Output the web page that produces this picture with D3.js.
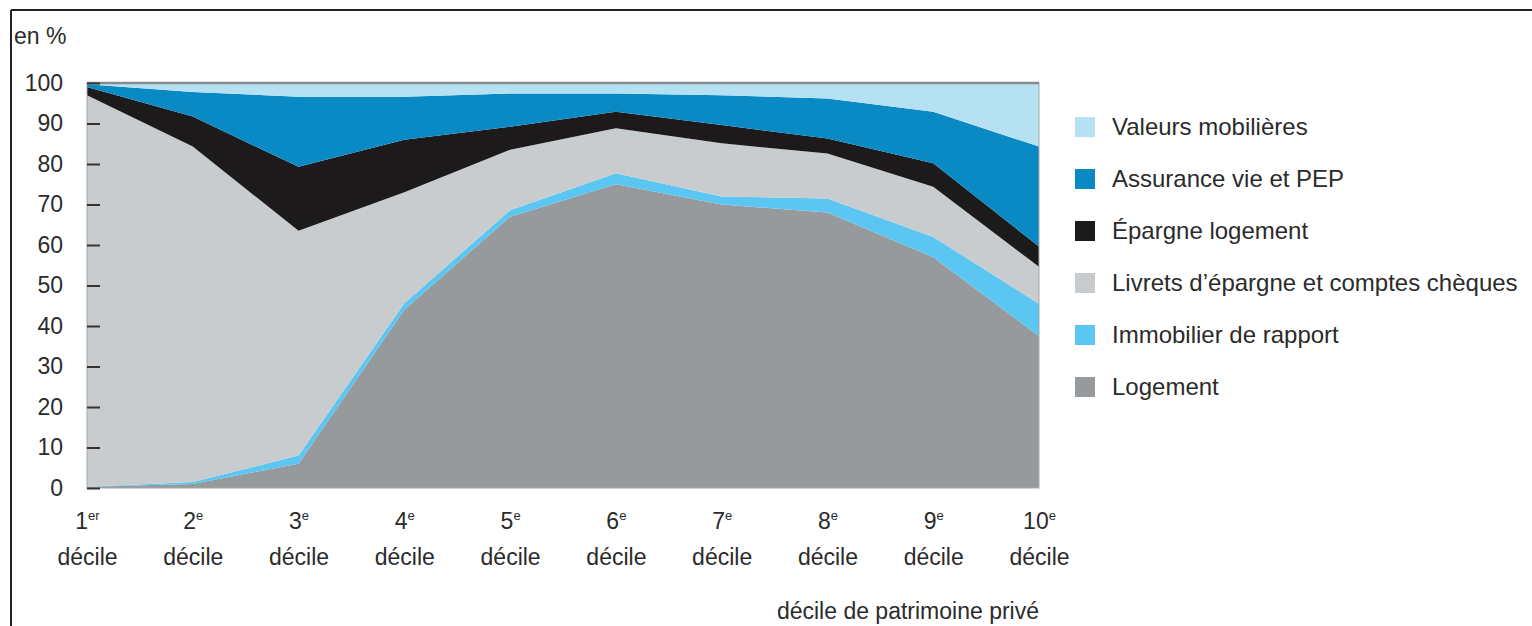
<!DOCTYPE html>
<html>
<head>
<meta charset="utf-8">
<script src="https://cdn.jsdelivr.net/npm/d3@7"></script>
<style>
  body { margin: 0; background: #fff; }
  svg { display: block; }
  text { font-family: "Liberation Sans", Arial, sans-serif; fill: #2b2b2b; }
  .legend text { font-size: 24px; }
</style>
</head>
<body>
<script>
//// DATA
// Deciles (x axis) and their ordinal suffixes
var deciles = [1, 2, 3, 4, 5, 6, 7, 8, 9, 10];
var suffixes = ["er", "e", "e", "e", "e", "e", "e", "e", "e", "e"];

// Share of each asset in gross wealth, in % (bottom to top)
var logement     = [0.3, 1.0, 6.0, 44.0, 67.0, 75.0, 70.0, 68.0, 57.0, 37.5];
var immobilier   = [0.0, 0.5, 2.0, 1.6, 1.6, 2.7, 2.0, 3.5, 5.0, 8.0];
var livrets      = [96.7, 82.8, 55.5, 27.4, 14.9, 11.1, 13.1, 11.1, 12.4, 9.1];
var epargneLog   = [2.0, 7.4, 15.8, 13.0, 5.7, 4.1, 4.5, 3.7, 5.8, 5.0];
var assurance    = [0.7, 6.1, 17.3, 10.6, 8.2, 4.5, 7.4, 9.9, 12.7, 24.7];
var valeurs      = [0.3, 2.2, 3.4, 3.4, 2.6, 2.6, 3.0, 3.8, 7.1, 15.7];

var yTicks = [0, 10, 20, 30, 40, 50, 60, 70, 80, 90, 100];

// Series, bottom to top of the stack
var series = [
	{key: "logement",   label: "Logement",                              values: logement,   color: "#969a9d"},
	{key: "immobilier", label: "Immobilier de rapport",                 values: immobilier, color: "#5ac6f1"},
	{key: "livrets",    label: "Livrets d\u2019épargne et comptes chèques", values: livrets, color: "#c9ccce"},
	{key: "epargne",    label: "Épargne logement",                      values: epargneLog, color: "#1c1a1b"},
	{key: "assurance",  label: "Assurance vie et PEP",                  values: assurance,  color: "#0a8ac5"},
	{key: "valeurs",    label: "Valeurs mobilières",                    values: valeurs,    color: "#b6e1f3"}
];


//// LAYOUT
var W = 1532, H = 626;
var plot = {left: 87, right: 1039, top: 83, bottom: 488};

var svg = d3.select("body").append("svg")
	.attr("width", W)
	.attr("height", H);

// Outer frame (top and left borders)
svg.append("line")
	.attr("x1", 11).attr("x2", W).attr("y1", 10).attr("y2", 10)
	.attr("stroke", "#222").attr("stroke-width", 2);
svg.append("line")
	.attr("x1", 11).attr("x2", 11).attr("y1", 10).attr("y2", H)
	.attr("stroke", "#222").attr("stroke-width", 2);

// Scales
var x = d3.scaleLinear().domain([1, 10]).range([plot.left, plot.right]);
var y = d3.scaleLinear().domain([0, 100]).range([plot.bottom, plot.top]);

// Stack
var table = deciles.map(function(d, i) {
	var row = {decile: d};
	series.forEach(function(s) { row[s.key] = s.values[i]; });
	return row;
});
var stacked = d3.stack().keys(series.map(function(s) { return s.key; }))(table);

var area = d3.area()
	.x(function(d) { return x(d.data.decile); })
	.y0(function(d) { return y(d[0]); })
	.y1(function(d) { return y(d[1]); });

svg.append("g").selectAll("path")
	.data(stacked)
  .enter().append("path")
	.attr("fill", function(d, i) { return series[i].color; })
	.attr("d", area);

// Plot frame
svg.append("rect")
	.attr("x", plot.left).attr("y", plot.top)
	.attr("width", plot.right - plot.left).attr("height", plot.bottom - plot.top)
	.attr("fill", "none").attr("stroke", "#a4a8aa").attr("stroke-width", 1);
svg.append("line")
	.attr("x1", plot.left).attr("x2", plot.right)
	.attr("y1", y(100)).attr("y2", y(100))
	.attr("stroke", "#878c8f").attr("stroke-width", 2.5);


//// AXES
var yAxis = d3.axisLeft(y)
	.tickValues(yTicks)
	.tickSizeInner(-13)
	.tickSizeOuter(0)
	.tickPadding(24);

var left = svg.append("g")
	.attr("class", "y axis")
	.attr("transform", "translate(" + plot.left + ",0)")
	.call(yAxis);
left.select(".domain").remove();
left.selectAll(".tick line").attr("stroke", "#333").attr("stroke-width", 2);
left.selectAll(".tick text").attr("fill", "#2b2b2b").style("font-size", "23px");

var xAxis = d3.axisBottom(x)
	.tickValues(deciles)
	.tickSize(0)
	.tickFormat("");

var bottom = svg.append("g")
	.attr("class", "x axis")
	.attr("transform", "translate(0," + plot.bottom + ")")
	.call(xAxis);
bottom.select(".domain").remove();

bottom.selectAll(".tick").each(function(d, i) {
	var g = d3.select(this);
	var t = g.append("text")
		.attr("text-anchor", "middle")
		.attr("y", 41)
		.attr("fill", "#2b2b2b")
		.style("font-size", "23px");
	t.append("tspan").text(d);
	t.append("tspan")
		.attr("dy", -9)
		.style("font-size", "13px")
		.text(suffixes[i]);
	g.append("text")
		.attr("text-anchor", "middle")
		.attr("y", 77)
		.attr("fill", "#2b2b2b")
		.style("font-size", "23px")
		.text("décile");
});

// Axis titles
svg.append("text")
	.attr("x", 14).attr("y", 44)
	.style("font-size", "23px")
	.text("en %");

svg.append("text")
	.attr("x", plot.right).attr("y", 619)
	.attr("text-anchor", "end")
	.style("font-size", "23px")
	.text("décile de patrimoine privé");


//// LEGEND
var legend = svg.append("g")
	.attr("class", "legend")
	.attr("transform", "translate(1075,127)");

var items = legend.selectAll("g")
	.data(series.slice().reverse())
  .enter().append("g")
	.attr("transform", function(d, i) { return "translate(0," + (i * 52) + ")"; });

items.append("rect")
	.attr("x", 0).attr("y", -10)
	.attr("width", 20).attr("height", 20)
	.attr("fill", function(d) { return d.color; });

items.append("text")
	.attr("x", 37).attr("y", 8)
	.text(function(d) { return d.label; });
</script>
</body>
</html>
